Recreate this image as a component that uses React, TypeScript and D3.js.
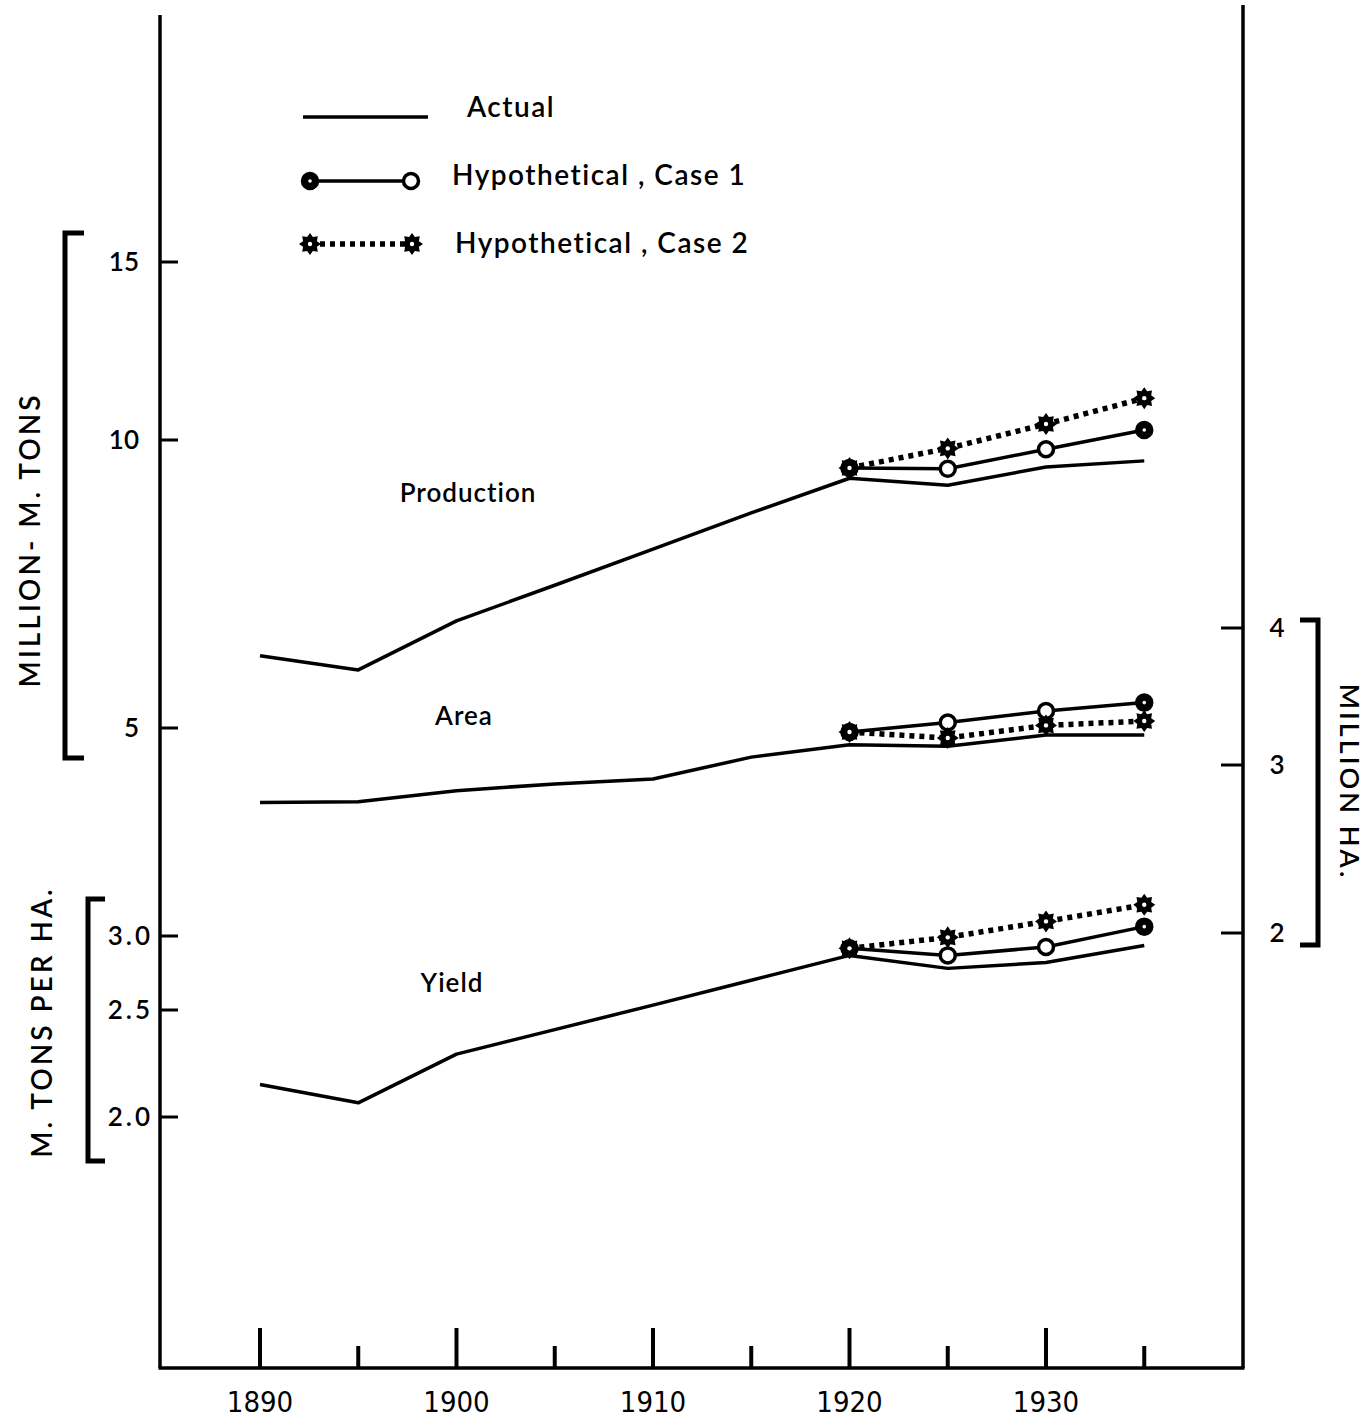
import React from "react";
import * as d3 from "d3";

// ---------- DATA ----------
const YEARS = [1890, 1895, 1900, 1905, 1910, 1915, 1920, 1925, 1930, 1935];
const HYPO_YEARS = [1920, 1925, 1930, 1935];
const X_TICK_YEARS = [1890, 1895, 1900, 1905, 1910, 1915, 1920, 1925, 1930, 1935];
const X_LABEL_YEARS = [1890, 1900, 1910, 1920, 1930];

const productionActual = [5.95, 5.75, 6.47, 7.05, 7.69, 8.39, 9.12, 8.97, 9.37, 9.51];
const productionCase1 = [9.35, 9.33, 9.78, 10.23];
const productionCase2 = [9.35, 9.8, 10.37, 11.0];

const areaActual = [2.74, 2.745, 2.82, 2.866, 2.9, 3.05, 3.13, 3.12, 3.195, 3.195];
const areaCase1 = [3.215, 3.28, 3.36, 3.42];
const areaCase2 = [3.215, 3.175, 3.26, 3.29];

const yieldActual = [2.14, 2.06, 2.28, 2.4, 2.53, 2.69, 2.86, 2.77, 2.81, 2.93];
const yieldCase1 = [2.91, 2.86, 2.92, 3.07];
const yieldCase2 = [2.91, 2.99, 3.11, 3.24];

const productionTicks = [5, 10, 15];
const productionTickLabels = ["5", "10", "15"];
const areaTicks = [2, 3, 4];
const areaTickLabels = ["2", "3", "4"];
const yieldTicks = [2.0, 2.5, 3.0];
const yieldTickLabels = ["2.0", "2.5", "3.0"];

// ---------- LAYOUT ----------
const W = 1370;
const H = 1420;
const LEFT = 160;
const RIGHT = 1243;
const BOTTOM = 1368;

const FONT = "Lato, 'Open Sans', 'DejaVu Sans', sans-serif";
const NUMFONT = "'Liberation Sans Narrow', 'DejaVu Sans Condensed', 'Noto Sans', sans-serif";

const x = d3.scaleLinear().domain([1890, 1930]).range([260, 1046]);
const yProd = d3.scaleLog().domain([5, 10, 15]).range([728, 440, 262]);
const yArea = d3.scaleLog().domain([2, 3, 4]).range([933, 765, 628]);
const yYield = d3.scaleLog().domain([2, 2.5, 3]).range([1117, 1010, 936]);

const starPath = (() => {
  const pts: [number, number][] = [];
  for (let i = 0; i < 16; i++) {
    pts.push([(i * Math.PI) / 8, i % 2 === 0 ? 11 : 7.5]);
  }
  return d3.lineRadial().curve(d3.curveLinearClosed)(pts) as string;
})();

function Star({ cx, cy }: { cx: number; cy: number }) {
  return (
    <g transform={`translate(${cx},${cy})`}>
      <path d={starPath} fill="#000" />
      <circle r={2.2} fill="#fff" />
    </g>
  );
}

function Circ({ cx, cy, filled }: { cx: number; cy: number; filled?: boolean }) {
  return (
    <g>
      <circle cx={cx} cy={cy} r={7.5} fill={filled ? "#000" : "#fff"} stroke="#000" strokeWidth={3.5} />
      {filled ? <circle cx={cx} cy={cy} r={1.8} fill="#fff" /> : null}
    </g>
  );
}

function Series({
  scale,
  actual,
  case1,
  case2,
}: {
  scale: d3.ScaleLogarithmic<number, number>;
  actual: number[];
  case1: number[];
  case2: number[];
}) {
  const line = d3
    .line<[number, number]>()
    .x((d) => x(d[0]))
    .y((d) => scale(d[1]));
  const a = YEARS.map((yr, i) => [yr, actual[i]] as [number, number]);
  const c1 = HYPO_YEARS.map((yr, i) => [yr, case1[i]] as [number, number]);
  const c2 = HYPO_YEARS.map((yr, i) => [yr, case2[i]] as [number, number]);
  return (
    <g>
      <path d={line(a) as string} fill="none" stroke="#000" strokeWidth={3.5} strokeLinejoin="round" />
      <path d={line(c1) as string} fill="none" stroke="#000" strokeWidth={3.5} />
      <path d={line(c2) as string} fill="none" stroke="#000" strokeWidth={5.5} strokeDasharray="5 5" />
      {c1.map((d, i) => (
        <Circ key={"c" + i} cx={x(d[0])} cy={scale(d[1])} filled={i === c1.length - 1} />
      ))}
      {c2.map((d, i) => (
        <Star key={"s" + i} cx={x(d[0])} cy={scale(d[1])} />
      ))}
    </g>
  );
}

export default function App() {
  const textStyle = { fontFamily: FONT, fill: "#000", fontWeight: 600 } as React.CSSProperties;
  return (
    <svg
      width={W}
      height={H}
      viewBox={`0 0 ${W} ${H}`}
      style={{ position: "absolute", left: 0, top: 0, background: "#fff" }}
    >
      <rect x={0} y={0} width={W} height={H} fill="#fff" />

      {/* frame */}
      <line x1={LEFT} y1={15} x2={LEFT} y2={BOTTOM} stroke="#000" strokeWidth={3.5} />
      <line x1={RIGHT} y1={5} x2={RIGHT} y2={BOTTOM} stroke="#000" strokeWidth={3.5} />
      <line x1={LEFT - 1.5} y1={BOTTOM} x2={RIGHT + 1.5} y2={BOTTOM} stroke="#000" strokeWidth={3.5} />

      {/* x ticks */}
      {X_TICK_YEARS.map((yr) => (
        <line
          key={yr}
          x1={x(yr)}
          x2={x(yr)}
          y1={BOTTOM}
          y2={yr % 10 === 0 ? BOTTOM - 40 : BOTTOM - 22}
          stroke="#000"
          strokeWidth={4}
        />
      ))}
      {X_LABEL_YEARS.map((yr) => (
        <text
          key={yr}
          x={x(yr)}
          y={1412}
          textAnchor="middle"
          style={{ fontFamily: NUMFONT, fontSize: 29, fill: "#000" }}
        >
          {yr}
        </text>
      ))}

      {/* production axis */}
      {productionTicks.map((t, i) => (
        <g key={t}>
          <line x1={LEFT} x2={LEFT + 18} y1={yProd(t)} y2={yProd(t)} stroke="#000" strokeWidth={3} />
          <text x={139} y={yProd(t) + 9} textAnchor="end" style={{ ...textStyle, fontSize: 26 }}>
            {productionTickLabels[i]}
          </text>
        </g>
      ))}
      <path d="M84,233 H65 V758 H84" fill="none" stroke="#000" strokeWidth={5} />
      <text
        transform="translate(40,540) rotate(-90)"
        textAnchor="middle"
        style={{ ...textStyle, fontSize: 28, letterSpacing: 3 }}
      >
        MILLION- M. TONS
      </text>

      {/* yield axis */}
      {yieldTicks.map((t, i) => (
        <g key={t}>
          <line x1={LEFT} x2={LEFT + 18} y1={yYield(t)} y2={yYield(t)} stroke="#000" strokeWidth={3} />
          <text x={153} y={yYield(t) + 9} textAnchor="end" style={{ ...textStyle, fontSize: 26, letterSpacing: 3 }}>
            {yieldTickLabels[i]}
          </text>
        </g>
      ))}
      <path d="M105,899 H88 V1161 H105" fill="none" stroke="#000" strokeWidth={5} />
      <text
        transform="translate(52,1022) rotate(-90)"
        textAnchor="middle"
        style={{ ...textStyle, fontSize: 28, letterSpacing: 3 }}
      >
        M. TONS PER HA.
      </text>

      {/* area axis (right) */}
      {areaTicks.map((t, i) => (
        <g key={t}>
          <line x1={RIGHT} x2={RIGHT - 22} y1={yArea(t)} y2={yArea(t)} stroke="#000" strokeWidth={3} />
          <text x={1277} y={yArea(t) + 9} textAnchor="middle" style={{ ...textStyle, fontSize: 26 }}>
            {areaTickLabels[i]}
          </text>
        </g>
      ))}
      <path d="M1300,620 H1318 V945 H1300" fill="none" stroke="#000" strokeWidth={5} />
      <text
        transform="translate(1340,782) rotate(90)"
        textAnchor="middle"
        style={{ ...textStyle, fontSize: 27, letterSpacing: 3 }}
      >
        MILLION HA.
      </text>

      {/* series */}
      <Series scale={yProd} actual={productionActual} case1={productionCase1} case2={productionCase2} />
      <Series scale={yArea} actual={areaActual} case1={areaCase1} case2={areaCase2} />
      <Series scale={yYield} actual={yieldActual} case1={yieldCase1} case2={yieldCase2} />

      {/* series labels */}
      <text x={468} y={502} textAnchor="middle" style={{ ...textStyle, fontSize: 26, letterSpacing: 1 }}>
        Production
      </text>
      <text x={464} y={725} textAnchor="middle" style={{ ...textStyle, fontSize: 26, letterSpacing: 1 }}>
        Area
      </text>
      <text x={452} y={992} textAnchor="middle" style={{ ...textStyle, fontSize: 26, letterSpacing: 1 }}>
        Yield
      </text>

      {/* legend */}
      <line x1={303} x2={428} y1={117} y2={117} stroke="#000" strokeWidth={3.5} />
      <text x={467} y={117} style={{ ...textStyle, fontSize: 28, letterSpacing: 1.5 }}>
        Actual
      </text>
      <line x1={310} x2={411} y1={181} y2={181} stroke="#000" strokeWidth={3.5} />
      <Circ cx={310} cy={181} filled />
      <Circ cx={411} cy={181} />
      <text x={452} y={185} style={{ ...textStyle, fontSize: 28, letterSpacing: 1.5 }}>
        Hypothetical , Case  1
      </text>
      <line x1={310} x2={412} y1={244} y2={244} stroke="#000" strokeWidth={5.5} strokeDasharray="5 5" />
      <Star cx={310} cy={244} />
      <Star cx={412} cy={244} />
      <text x={455} y={253} style={{ ...textStyle, fontSize: 28, letterSpacing: 1.5 }}>
        Hypothetical , Case  2
      </text>
    </svg>
  );
}
